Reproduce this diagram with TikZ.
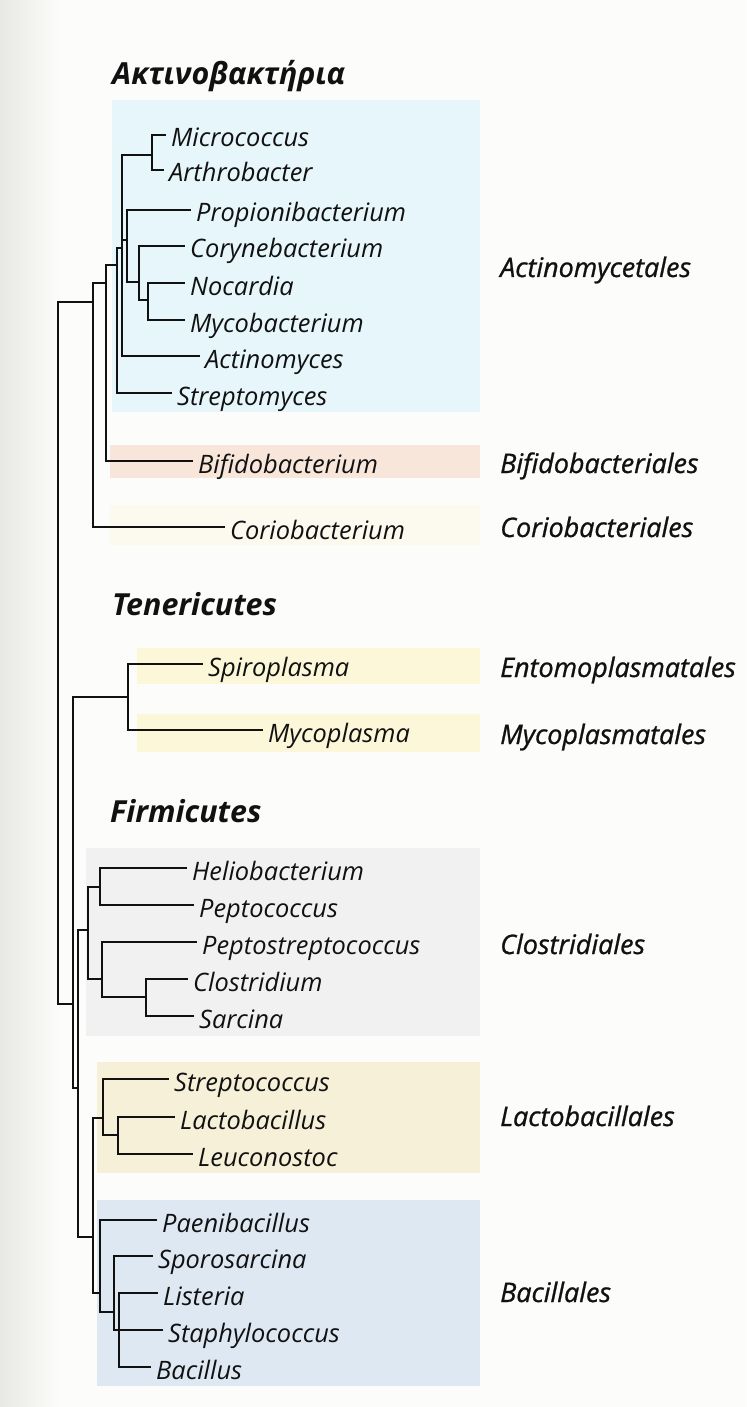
\documentclass[tikz,border=0pt]{standalone}
\usepackage{fontspec}
\setmainfont{Open Sans}
\newfontfamily\labfont{Open Sans}[FakeBold=0.9]
\definecolor{bg}{HTML}{FCFCFA}
\definecolor{edge}{HTML}{E8E8E4}
\definecolor{bandblue}{HTML}{E6F6FB}
\definecolor{bandpeach}{HTML}{F8E6DA}
\definecolor{bandcream}{HTML}{FCFAEE}
\definecolor{bandyellow}{HTML}{FBF7D8}
\definecolor{bandgray}{HTML}{F1F1F2}
\definecolor{bandbeige}{HTML}{F7F0D8}
\definecolor{bandsteel}{HTML}{DDE8F2}
\definecolor{ink}{HTML}{111111}
\tikzset{
  leaf/.style={anchor=west,inner xsep=6bp,inner ysep=0pt,text height=24bp,text depth=0pt,font=\fontsize{25.5}{28}\selectfont\itshape,text=ink},
  order/.style={anchor=base west,inner sep=0pt,font=\labfont\fontsize{27}{30}\selectfont\itshape,text=ink},
  grouptitle/.style={anchor=base west,inner sep=0pt,font=\fontsize{30.5}{33}\selectfont\bfseries\itshape,text=ink},
  branch/.style={draw=ink,line width=2.4bp,line cap=rect},
}
\begin{document}
\begin{tikzpicture}[x=1bp,y=-1bp]
\useasboundingbox (0,0) rectangle (746,1407);
\fill[bg] (0,0) rectangle (746,1407);
\shade[left color=edge,right color=bg] (0,0) rectangle (60,1407);
% bands
\fill[bandblue]   (112,100) rectangle (480,412);
\fill[bandpeach]  (110,445) rectangle (480,478);
\fill[bandcream]  (110,505) rectangle (480,545);
\fill[bandyellow] (137,648) rectangle (480,684);
\fill[bandyellow] (137,714) rectangle (480,752);
\fill[bandgray]   (86,848)  rectangle (480,1036);
\fill[bandbeige]  (97,1062) rectangle (480,1173);
\fill[bandsteel]  (97,1200) rectangle (480,1386);
% titles
\node[grouptitle] (tAct) at (112,85)  {Ακτινοβακτήρια};
\node[grouptitle] (tTen) at (112,615) {Tenericutes};
\node[grouptitle] (tFir) at (110,822) {Firmicutes};
% order labels
\node[order] (oAct) at (500,277)  {Actinomycetales};
\node[order] (oBif) at (500,473)  {Bifidobacteriales};
\node[order] (oCor) at (500,537)  {Coriobacteriales};
\node[order] (oEnt) at (500,677)  {Entomoplasmatales};
\node[order] (oMyc) at (500,744)  {Mycoplasmatales};
\node[order] (oClo) at (500,954)  {Clostridiales};
\node[order] (oLac) at (500,1126) {Lactobacillales};
\node[order] (oBac) at (500,1302) {Bacillales};
% leaves
\node[leaf] (micro)  at (165,135)  {Micrococcus};
\node[leaf] (arthro) at (163,170)  {Arthrobacter};
\node[leaf] (propi)  at (190,210)  {Propionibacterium};
\node[leaf] (coryne) at (184,246)  {Corynebacterium};
\node[leaf] (nocar)  at (184,283)  {Nocardia};
\node[leaf] (mycob)  at (184,320)  {Mycobacterium};
\node[leaf] (actino) at (199,356)  {Actinomyces};
\node[leaf] (strepm) at (171,393)  {Streptomyces};
\node[leaf] (bifido) at (192,461)  {Bifidobacterium};
\node[leaf] (corio)  at (224,527)  {Coriobacterium};
\node[leaf] (spiro)  at (202,664)  {Spiroplasma};
\node[leaf] (mycop)  at (262,730)  {Mycoplasma};
\node[leaf] (helio)  at (186,868)  {Heliobacterium};
\node[leaf] (pepto)  at (193,905)  {Peptococcus};
\node[leaf] (pepst)  at (196,942)  {Peptostreptococcus};
\node[leaf] (clost)  at (187,979)  {Clostridium};
\node[leaf] (sarci)  at (193,1016) {Sarcina};
\node[leaf] (strepc) at (168,1079) {Streptococcus};
\node[leaf] (lacto)  at (174,1117) {Lactobacillus};
\node[leaf] (leuco)  at (192,1154) {Leuconostoc};
\node[leaf] (paeni)  at (156,1220) {Paenibacillus};
\node[leaf] (sporo)  at (152,1256) {Sporosarcina};
\node[leaf] (liste)  at (157,1293) {Listeria};
\node[leaf] (staph)  at (162,1330) {Staphylococcus};
\node[leaf] (bacil)  at (150,1367) {Bacillus};
% internal nodes (x = branch position, y = where it joins its parent)
\coordinate (root) at (58,650);
\coordinate (nC)   at (93,302);
\coordinate (nB)   at (106,283);
\coordinate (nS)   at (117,265);
\coordinate (nA)   at (122,248);
\coordinate (nM)   at (152,155);
\coordinate (nP)   at (127,240);
\coordinate (nCo)  at (139,282);
\coordinate (nN)   at (148,300);
\coordinate (nTF)  at (73,1004);
\coordinate (nT)   at (128,697);
\coordinate (nF)   at (78,1088);
\coordinate (nCl)  at (88,930);
\coordinate (nHP)  at (100,887);
\coordinate (nPCS) at (102,979);
\coordinate (nCS)  at (146,997);
\coordinate (nLB)  at (93,1237);
\coordinate (nLa)  at (103,1118);
\coordinate (nLL)  at (118,1135);
\coordinate (nBa)  at (100,1293);
\coordinate (nSp)  at (114,1312);
\coordinate (nLi)  at (119,1330);
% branches
\draw[branch] (root) |- (nC);  \draw[branch] (root) |- (nTF);
\draw[branch] (nC) |- (nB);    \draw[branch] (nC) |- (corio.west);
\draw[branch] (nB) |- (nS);    \draw[branch] (nB) |- (bifido.west);
\draw[branch] (nS) |- (nA);    \draw[branch] (nS) |- (strepm.west);
\draw[branch] (nA) |- (nM);    \draw[branch] (nA) |- (nP);  \draw[branch] (nA) |- (actino.west);
\draw[branch] (nM) |- (micro.west); \draw[branch] (nM) |- (arthro.west);
\draw[branch] (nP) |- (propi.west); \draw[branch] (nP) |- (nCo);
\draw[branch] (nCo) |- (coryne.west); \draw[branch] (nCo) |- (nN);
\draw[branch] (nN) |- (nocar.west); \draw[branch] (nN) |- (mycob.west);
\draw[branch] (nTF) |- (nT);   \draw[branch] (nTF) |- (nF);
\draw[branch] (nT) |- (spiro.west); \draw[branch] (nT) |- (mycop.west);
\draw[branch] (nF) |- (nCl);   \draw[branch] (nF) |- (nLB);
\draw[branch] (nCl) |- (nHP);  \draw[branch] (nCl) |- (nPCS);
\draw[branch] (nHP) |- (helio.west); \draw[branch] (nHP) |- (pepto.west);
\draw[branch] (nPCS) |- (pepst.west); \draw[branch] (nPCS) |- (nCS);
\draw[branch] (nCS) |- (clost.west); \draw[branch] (nCS) |- (sarci.west);
\draw[branch] (nLB) |- (nLa);  \draw[branch] (nLB) |- (nBa);
\draw[branch] (nLa) |- (strepc.west); \draw[branch] (nLa) |- (nLL);
\draw[branch] (nLL) |- (lacto.west); \draw[branch] (nLL) |- (leuco.west);
\draw[branch] (nBa) |- (paeni.west); \draw[branch] (nBa) |- (nSp);
\draw[branch] (nSp) |- (sporo.west); \draw[branch] (nSp) |- (staph.west); \draw[branch] (nSp) |- (nLi);
\draw[branch] (nLi) |- (liste.west); \draw[branch] (nLi) |- (bacil.west);
\end{tikzpicture}
\end{document}
